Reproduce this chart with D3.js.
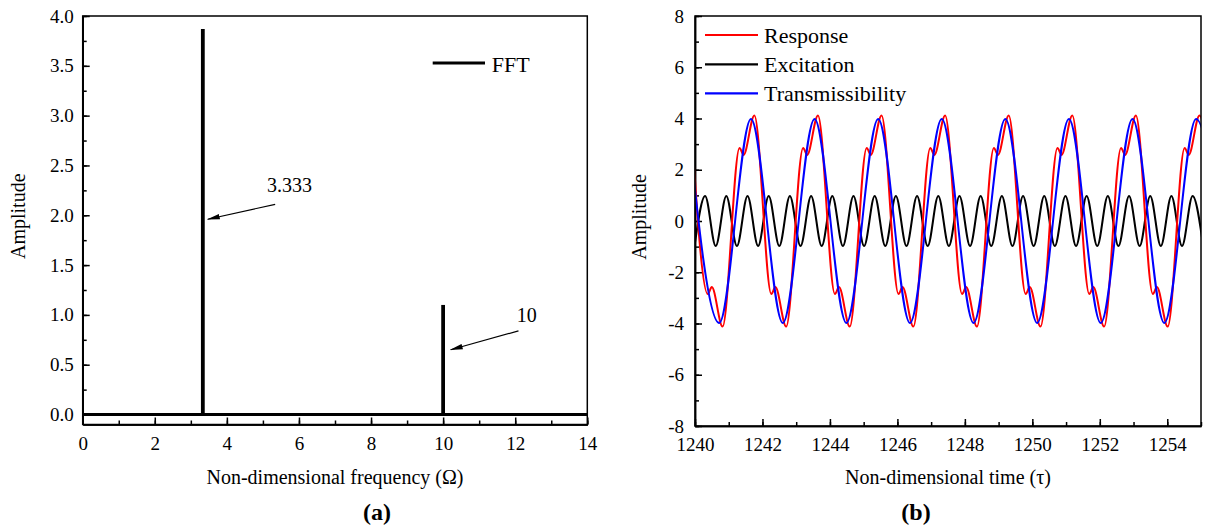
<!DOCTYPE html>
<html><head><meta charset="utf-8">
<script src="https://cdn.jsdelivr.net/npm/d3@7"></script>
<style>
body{margin:0;background:#fff;}
svg text{font-family:"Liberation Serif","Times New Roman",serif !important;fill:#000;}
</style></head><body>
<svg id="chart" width="1207" height="531"></svg>
<script>
// ---------- DATA ----------
// Panel (a): FFT spectrum
const fftFreqRange = [0, 14];
const fftPeakFreq = [3.333, 10];
const fftPeakAmp = [3.87, 1.1];
const fftPeakLabels = ["3.333", "10"];
const fftXTicks = [0, 2, 4, 6, 8, 10, 12, 14];
const fftYTicks = [0, 0.5, 1.0, 1.5, 2.0, 2.5, 3.0, 3.5, 4.0];

// Panel (b): time histories (key points: extrema / shoulders)
const responseTime = [1239.875,1240.378,1240.498,1240.818,1241.320,1241.440,
  1241.760,1242.263,1242.383,1242.703,1243.205,1243.325,
  1243.645,1244.148,1244.268,1244.588,1245.090,1245.210,
  1245.530,1246.033,1246.153,1246.473,1246.975,1247.095,
  1247.415,1247.918,1248.038,1248.358,1248.860,1248.980,
  1249.300,1249.803,1249.923,1250.243,1250.745,1250.865,
  1251.185,1251.688,1251.808,1252.128,1252.630,1252.750,
  1253.070,1253.573,1253.693,1254.013,1254.515,1254.635,
  1254.955,1255.458];
const responseValue = [4.12,-2.85,-2.58,-4.12,2.85,2.58,
  4.12,-2.85,-2.58,-4.12,2.85,2.58,
  4.12,-2.85,-2.58,-4.12,2.85,2.58,
  4.12,-2.85,-2.58,-4.12,2.85,2.58,
  4.12,-2.85,-2.58,-4.12,2.85,2.58,
  4.12,-2.85,-2.58,-4.12,2.85,2.58,
  4.12,-2.85,-2.58,-4.12,2.85,2.58,
  4.12,-2.85,-2.58,-4.12,2.85,2.58,
  4.12,-2.85];

const excitationTime = [1239.986,1240.300,1240.614,1240.928,1241.243,1241.557,1241.871,
  1242.185,1242.499,1242.813,1243.128,1243.442,1243.756,1244.070,1244.384,1244.698,
  1245.013,1245.327,1245.641,1245.955,1246.269,1246.583,1246.898,1247.212,1247.526,
  1247.840,1248.154,1248.468,1248.782,1249.097,1249.411,1249.725,1250.039,1250.353,
  1250.667,1250.982,1251.296,1251.610,1251.924,1252.238,1252.552,1252.867,1253.181,
  1253.495,1253.809,1254.123,1254.437,1254.751,1255.066];
const excitationValue = [-0.98,0.98,-0.98,0.98,-0.98,0.98,-0.98,
  0.98,-0.98,0.98,-0.98,0.98,-0.98,0.98,-0.98,0.98,
  -0.98,0.98,-0.98,0.98,-0.98,0.98,-0.98,0.98,-0.98,
  0.98,-0.98,0.98,-0.98,0.98,-0.98,0.98,-0.98,0.98,
  -0.98,0.98,-0.98,0.98,-0.98,0.98,-0.98,0.98,-0.98,
  0.98,-0.98,0.98,-0.98,0.98,-0.98];

const transTime = [1239.775,1240.718,1241.660,1242.603,1243.545,1244.488,1245.430,1246.373,
  1247.315,1248.258,1249.200,1250.143,1251.085,1252.028,1252.970,1253.913,1254.855,1255.798];
const transValue = [3.98,-3.98,3.98,-3.98,3.98,-3.98,3.98,-3.98,
  3.98,-3.98,3.98,-3.98,3.98,-3.98,3.98,-3.98,3.98,-3.98];

const seriesNames = ["Response", "Excitation", "Transmissibility"];
const seriesColors = ["#ff0000", "#000000", "#0000ff"];
const timeXTicks = [1240, 1242, 1244, 1246, 1248, 1250, 1252, 1254];
const timeYTicks = [-8, -6, -4, -2, 0, 2, 4, 6, 8];

// ---------- DRAW ----------
const SERIF = '"Liberation Serif","Times New Roman",serif';
const svg = d3.select("#chart");
const TICK_FS = 19, TITLE_FS = 20, LEG_FS = 22;

function styleAxis(g){
  g.attr("font-family", SERIF).attr("font-size", TICK_FS);
  g.selectAll(".domain").attr("stroke","#000").attr("stroke-width",1.5);
  g.selectAll(".tick line").attr("stroke","#000").attr("stroke-width",1.5);
  g.selectAll(".tick text").attr("font-size",TICK_FS).style("font-family",SERIF).attr("fill","#000");
}
function minorVals(dom, step){ const v=[]; for(let t=dom[0]; t<=dom[1]+1e-9; t+=step) v.push(+t.toFixed(4)); return v; }

// ----- Panel (a)
const A = {l:82.7, r:587.3, t:16, b:424.5};
const xA = d3.scaleLinear().domain(fftFreqRange).range([A.l, A.r]);
const yA = d3.scaleLinear().domain([-0.1, 4]).range([A.b, A.t]);
const gA = svg.append("g");

gA.append("g").attr("transform",`translate(0,${A.b})`)
  .call(d3.axisBottom(xA).tickValues(minorVals(fftFreqRange,1)).tickSizeInner(-4).tickSizeOuter(0).tickFormat(""))
  .call(styleAxis);
gA.append("g").attr("transform",`translate(0,${A.b})`)
  .call(d3.axisBottom(xA).tickValues(fftXTicks).tickSizeInner(-7).tickSizeOuter(0).tickPadding(12).tickFormat(d=>String(d)))
  .call(styleAxis);
gA.append("g").attr("transform",`translate(${A.l},0)`)
  .call(d3.axisLeft(yA).tickValues(minorVals([0,4],0.25)).tickSizeInner(-4).tickSizeOuter(0).tickFormat(""))
  .call(styleAxis);
gA.append("g").attr("transform",`translate(${A.l},0)`)
  .call(d3.axisLeft(yA).tickValues(fftYTicks).tickSizeInner(-7).tickSizeOuter(0).tickPadding(9).tickFormat(d3.format(".1f")))
  .call(styleAxis);
gA.append("rect").attr("x",A.l).attr("y",A.t).attr("width",A.r-A.l).attr("height",A.b-A.t)
  .attr("fill","none").attr("stroke","#000").attr("stroke-width",1.5);

// baseline of spectrum
gA.append("line").attr("x1",xA(fftFreqRange[0])).attr("x2",xA(fftFreqRange[1]))
  .attr("y1",yA(0)).attr("y2",yA(0)).attr("stroke","#000").attr("stroke-width",3);
// spikes
gA.selectAll("line.spike").data(fftPeakFreq).join("line").attr("class","spike")
  .attr("x1",d=>xA(d)).attr("x2",d=>xA(d))
  .attr("y1",yA(0)).attr("y2",(d,i)=>yA(fftPeakAmp[i]))
  .attr("stroke","#000").attr("stroke-width",3.8);

// arrow marker
svg.append("defs").append("marker").attr("id","arr").attr("markerUnits","userSpaceOnUse")
  .attr("markerWidth",13).attr("markerHeight",6).attr("refX",12).attr("refY",3).attr("orient","auto")
  .append("path").attr("d","M0,0.3 L13,3 L0,5.7 Z").attr("fill","#000");

// annotations (positions in data coordinates)
const annot = [
  {tx:5.11, ty:2.23, x1:5.34, y1:2.11, x2:3.47, y2:1.96},
  {tx:12.04, ty:0.93, x1:12.09, y1:0.84, x2:10.21, y2:0.65}
];
annot.forEach((a,i)=>{
  gA.append("line").attr("x1",xA(a.x1)).attr("y1",yA(a.y1)).attr("x2",xA(a.x2)).attr("y2",yA(a.y2))
    .attr("stroke","#000").attr("stroke-width",1.2).attr("marker-end","url(#arr)");
  gA.append("text").attr("x",xA(a.tx)).attr("y",yA(a.ty)).attr("font-size",20).text(fftPeakLabels[i]);
});

// legend (a)
gA.append("line").attr("x1",432.7).attr("x2",485).attr("y1",63).attr("y2",63).attr("stroke","#000").attr("stroke-width",3);
gA.append("text").attr("x",491.7).attr("y",71.5).attr("font-size",LEG_FS).text("FFT");

// titles (a)
gA.append("text").attr("x",(A.l+A.r)/2).attr("y",484).attr("text-anchor","middle").attr("font-size",TITLE_FS)
  .text("Non-dimensional frequency (Ω)");
gA.append("text").attr("transform",`translate(25,${(A.t+A.b)/2 - 4}) rotate(-90)`).attr("text-anchor","middle").attr("font-size",TITLE_FS)
  .text("Amplitude");
gA.append("text").attr("x",377).attr("y",520).attr("text-anchor","middle").attr("font-size",24).attr("font-weight","bold").text("(a)");

// ----- Panel (b)
const B = {l:695, r:1201, t:16, b:426};
const xB = d3.scaleLinear().domain([1240, 1255]).range([B.l, B.r]);
const yB = d3.scaleLinear().domain([-8, 8]).range([B.b, B.t]);
const gB = svg.append("g");

gB.append("g").attr("transform",`translate(0,${B.b})`)
  .call(d3.axisBottom(xB).tickValues(minorVals([1240,1255],1)).tickSizeInner(-4).tickSizeOuter(0).tickFormat(""))
  .call(styleAxis);
gB.append("g").attr("transform",`translate(0,${B.b})`)
  .call(d3.axisBottom(xB).tickValues(timeXTicks).tickSizeInner(-7).tickSizeOuter(0).tickPadding(12).tickFormat(d=>String(d)))
  .call(styleAxis);
gB.append("g").attr("transform",`translate(${B.l},0)`)
  .call(d3.axisLeft(yB).tickValues(minorVals([-8,8],1)).tickSizeInner(-4).tickSizeOuter(0).tickFormat(""))
  .call(styleAxis);
gB.append("g").attr("transform",`translate(${B.l},0)`)
  .call(d3.axisLeft(yB).tickValues(timeYTicks).tickSizeInner(-7).tickSizeOuter(0).tickPadding(11).tickFormat(d=>String(d)))
  .call(styleAxis);

svg.append("defs").append("clipPath").attr("id","clipB").append("rect")
  .attr("x",B.l).attr("y",B.t).attr("width",B.r-B.l).attr("height",B.b-B.t);

const lineB = d3.line().x(d=>xB(d[0])).y(d=>yB(d[1])).curve(d3.curveMonotoneX);
const seriesData = [
  d3.zip(responseTime, responseValue),
  d3.zip(excitationTime, excitationValue),
  d3.zip(transTime, transValue)
];
const plotG = gB.append("g").attr("clip-path","url(#clipB)");
[1,0,2].forEach(i=>{
  plotG.append("path").datum(seriesData[i]).attr("d",lineB)
    .attr("fill","none").attr("stroke",seriesColors[i]).attr("stroke-width",2);
});

gB.append("rect").attr("x",B.l).attr("y",B.t).attr("width",B.r-B.l).attr("height",B.b-B.t)
  .attr("fill","none").attr("stroke","#000").attr("stroke-width",1.5);

// legend (b)
const legRows = [35, 64.3, 93.3];
seriesNames.forEach((n,i)=>{
  gB.append("line").attr("x1",705).attr("x2",758).attr("y1",legRows[i]).attr("y2",legRows[i])
    .attr("stroke",seriesColors[i]).attr("stroke-width",2.2);
  gB.append("text").attr("x",764).attr("y",legRows[i]+8).attr("font-size",LEG_FS).text(n);
});

gB.append("text").attr("x",(B.l+B.r)/2).attr("y",484).attr("text-anchor","middle").attr("font-size",TITLE_FS)
  .text("Non-dimensional time (τ)");
gB.append("text").attr("transform",`translate(646,${(B.t+B.b)/2 - 4}) rotate(-90)`).attr("text-anchor","middle").attr("font-size",TITLE_FS)
  .text("Amplitude");
gB.append("text").attr("x",916).attr("y",520).attr("text-anchor","middle").attr("font-size",24).attr("font-weight","bold").text("(b)");

svg.selectAll("text").style("font-family", SERIF);
</script>
</body></html>
